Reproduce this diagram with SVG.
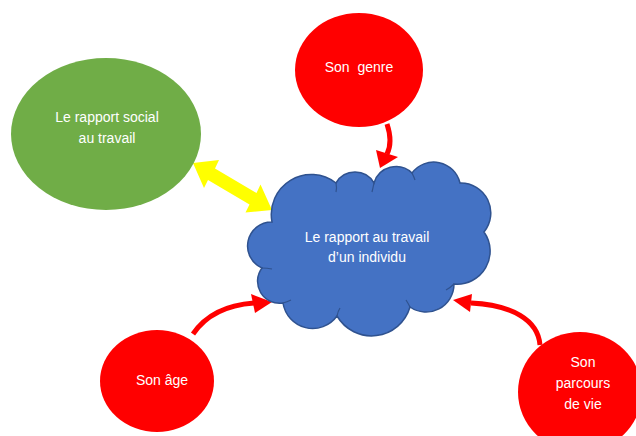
<svg xmlns="http://www.w3.org/2000/svg" width="636" height="436" viewBox="0 0 636 436">
<style>
.t{font-family:"Liberation Sans",Arial,sans-serif;font-size:14px;fill:#ffffff;text-anchor:middle;white-space:pre}
.red{fill:#ff0000}
.ln{fill:none;stroke:#ff0000;stroke-width:5}
</style>
<rect width="636" height="436" fill="#ffffff"/>
<g id="connectors">
<polygon fill="#ffff00" points="193,163 219,160 215,168.5 256.5,193 260.5,184.5 272,210 245.5,212.5 249.5,204.5 208,180 204,188"/>
<path class="ln" d="M387,124 C391,136 391,146 387,154"/>
<polygon class="red" points="376,150 398,157 380,168"/>
<path class="ln" d="M193,334 Q212,306 254,303"/>
<polygon class="red" points="251,294 272,302 255,313"/>
<path class="ln" d="M540,345 C538,320 512,305 471,303"/>
<polygon class="red" points="472,294 453,300 470,312"/>
</g>
<g id="rapport-social">
<ellipse cx="106" cy="134" rx="95" ry="76" fill="#70ad47"/>
<text class="t" x="107" y="122">Le rapport social</text>
<text class="t" x="107" y="143">au travail</text>
</g>
<g id="genre">
<ellipse cx="359" cy="70" rx="64" ry="57" class="red"/>
<text class="t" x="359" y="72">Son  genre</text>
</g>
<g id="age">
<ellipse cx="157" cy="381" rx="57" ry="51" class="red"/>
<text class="t" x="162" y="385">Son âge</text>
</g>
<g id="parcours">
<ellipse cx="580" cy="392" rx="62" ry="60" class="red"/>
<text class="t" x="583" y="367">Son</text>
<text class="t" x="583" y="388">parcours</text>
<text class="t" x="583" y="409">de vie</text>
</g>
<g id="cloud">
<path fill="#4472c4" stroke="#2f528f" stroke-width="1.5" d="M272,222 A40,40 0 0 1 336,183 A22,22 0 0 1 374,183 A23,23 0 0 1 412,173 A27,27 0 0 1 460,183 A30,30 0 0 1 484,232 A33,33 0 0 1 454,284 A28,28 0 0 1 410,307 A40,40 0 0 1 337,316 A30,30 0 0 1 283,303 A22,22 0 0 1 262,268 A24,24 0 0 1 272,222 Z"/>
<g fill="none" stroke="#2f528f" stroke-width="1.2">
<path d="M336,183 q1,5 0,9"/>
<path d="M374,183 q-1,5 -2,9"/>
<path d="M412,173 q2,4 3,7"/>
<path d="M454,284 q-4,4 -8,6"/>
<path d="M410,307 q-2,-4 -4,-7"/>
<path d="M337,316 q1,-5 3,-8"/>
<path d="M283,303 q4,-1 8,-3"/>
<path d="M262,268 q5,0 10,1"/>
</g>
<text class="t" x="367" y="242">Le rapport au travail</text>
<text class="t" x="367" y="262">d’un individu</text>
</g>
</svg>
